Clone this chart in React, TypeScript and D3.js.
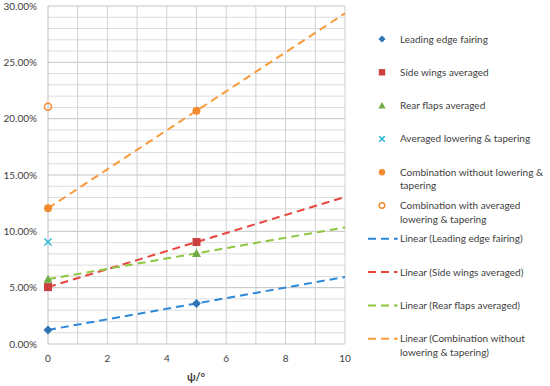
import React from 'react';
import * as d3 from 'd3';

// psi values where measurements were taken
const psiValues = [0, 5];

// drag reduction (%) per configuration
const leadingEdge = [1.25, 3.6];
const sideWings = [5.05, 9.05];
const rearFlaps = [5.75, 8.05];
const averagedLowering = [9.05]; // only at psi = 0
const combWithout = [12.05, 20.7];
const combWith = [21.05]; // only at psi = 0

const yTicks = [0, 5, 10, 15, 20, 25, 30];
const xTicks = [0, 2, 4, 6, 8, 10];

const legendLabels = [
  ['Leading edge fairing'],
  ['Side wings averaged'],
  ['Rear flaps averaged'],
  ['Averaged lowering & tapering'],
  ['Combination without lowering &', 'tapering'],
  ['Combination with averaged', 'lowering & tapering'],
  ['Linear (Leading edge fairing)'],
  ['Linear (Side wings averaged)'],
  ['Linear (Rear flaps averaged)'],
  ['Linear (Combination without', 'lowering & tapering)'],
];

const colors = {
  blue: '#2E75B6',
  blueLine: '#2E88D8',
  red: '#C9403F',
  redLine: '#E8453F',
  green: '#6FAC46',
  greenLine: '#8DC63F',
  cyan: '#2CB5D4',
  orange: '#F28A30',
  orangeLine: '#F99B3C',
};

const width = 550;
const height = 386;
const font = 'Lato, "Open Sans", sans-serif';

const x = d3.scaleLinear().domain([0, 10]).range([48, 345]);
const y = d3.scaleLinear().domain([0, 30]).range([344, 6]);

// least squares line through the measured points
function linearFit(xs: number[], ys: number[]) {
  const mx = d3.mean(xs)!;
  const my = d3.mean(ys)!;
  const num = d3.sum(xs, (v, i) => (v - mx) * (ys[i] - my));
  const den = d3.sum(xs, v => (v - mx) ** 2);
  const slope = num / den;
  return (v: number) => my + slope * (v - mx);
}

const line = d3.line<number>();

function TrendLine({ values, color }: { values: number[]; color: string }) {
  const f = linearFit(psiValues, values);
  const d = line([[x(0), y(f(0))], [x(10), y(f(10))]] as any);
  return <path d={d!} stroke={color} strokeWidth={2} strokeDasharray="8,5" fill="none" />;
}

function Marker({ kind, cx, cy, s = 1 }: { kind: string; cx: number; cy: number; s?: number }) {
  if (kind === 'diamond') {
    const r = 4.5 * s;
    return <path d={`M${cx},${cy - r}L${cx + r},${cy}L${cx},${cy + r}L${cx - r},${cy}Z`} fill={colors.blue} />;
  }
  if (kind === 'square') {
    const r = 4 * s;
    return <rect x={cx - r} y={cy - r} width={2 * r} height={2 * r} fill={colors.red} />;
  }
  if (kind === 'triangle') {
    const r = 4.5 * s;
    return <path d={`M${cx},${cy - r}L${cx + r},${cy + r * 0.8}L${cx - r},${cy + r * 0.8}Z`} fill={colors.green} />;
  }
  if (kind === 'cross') {
    const r = 3.5 * s;
    return (
      <g stroke={colors.cyan} strokeWidth={1.5}>
        <line x1={cx - r} y1={cy - r} x2={cx + r} y2={cy + r} />
        <line x1={cx - r} y1={cy + r} x2={cx + r} y2={cy - r} />
      </g>
    );
  }
  if (kind === 'circle') {
    return <circle cx={cx} cy={cy} r={4 * s} fill={colors.orange} />;
  }
  return <circle cx={cx} cy={cy} r={3.5 * s} fill="none" stroke={colors.orange} strokeWidth={1.5} />;
}

export default function App() {
  const minorY = d3.range(0, 31, 1);
  const gridX = d3.range(0, 11, 1);

  const legendMarkers = ['diamond', 'square', 'triangle', 'cross', 'circle', 'open'];
  const legendLines = [colors.blueLine, colors.redLine, colors.greenLine, colors.orangeLine];

  return (
    <svg width={width} height={height} style={{ position: 'absolute', left: 0, top: 0, background: '#fff' }}>
      {/* grid */}
      {minorY.map(v => (
        <line key={'h' + v} x1={x(0)} x2={x(10)} y1={y(v)} y2={y(v)}
          stroke={v % 5 === 0 ? '#C4C4C4' : '#DCDCDC'} strokeWidth={1} />
      ))}
      {gridX.map(v => (
        <line key={'v' + v} x1={x(v)} x2={x(v)} y1={y(0)} y2={y(30)}
          stroke={v === 0 ? '#BFBFBF' : '#D0D0D0'} strokeWidth={1} />
      ))}

      {/* y ticks */}
      {yTicks.map(v => (
        <text key={'yt' + v} x={37} y={y(v) + 3.5} textAnchor="end" fontSize={10}
          fontFamily={font} fill="#404040">{v.toFixed(2)}%</text>
      ))}
      {/* x ticks */}
      {xTicks.map(v => (
        <text key={'xt' + v} x={x(v)} y={362} textAnchor="middle" fontSize={10}
          fontFamily={font} fill="#404040">{v}</text>
      ))}
      <text x={196} y={381} textAnchor="middle" fontSize={11} fontWeight="bold"
        fontFamily={font} fill="#404040">ψ/°</text>

      {/* trend lines */}
      <TrendLine values={leadingEdge} color={colors.blueLine} />
      <TrendLine values={sideWings} color={colors.redLine} />
      <TrendLine values={rearFlaps} color={colors.greenLine} />
      <TrendLine values={combWithout} color={colors.orangeLine} />

      {/* points */}
      {leadingEdge.map((v, i) => <Marker key={'le' + i} kind="diamond" cx={x(psiValues[i])} cy={y(v)} />)}
      {sideWings.map((v, i) => <Marker key={'sw' + i} kind="square" cx={x(psiValues[i])} cy={y(v)} />)}
      {rearFlaps.map((v, i) => <Marker key={'rf' + i} kind="triangle" cx={x(psiValues[i])} cy={y(v)} />)}
      {averagedLowering.map((v, i) => <Marker key={'al' + i} kind="cross" cx={x(psiValues[i])} cy={y(v)} />)}
      {combWithout.map((v, i) => <Marker key={'cw' + i} kind="circle" cx={x(psiValues[i])} cy={y(v)} />)}
      {combWith.map((v, i) => <Marker key={'ca' + i} kind="open" cx={x(psiValues[i])} cy={y(v)} />)}

      {/* legend */}
      {legendLabels.map((lines, i) => {
        const cy = 39 + i * 33.3;
        return (
          <g key={'lg' + i}>
            {i < 6 ? (
              <Marker kind={legendMarkers[i]} cx={382} cy={cy} s={0.8} />
            ) : (
              <g>
                <line x1={368} x2={397} y1={cy} y2={cy} stroke={legendLines[i - 6]}
                  strokeWidth={2} strokeDasharray="8,5" />
                <rect x={396} y={cy - 1} width={1.5} height={2} fill={legendLines[i - 6]} />
              </g>
            )}
            <text x={400} y={cy + 3.5} fontSize={10} fontFamily={font} fill="#404040">
              {lines.map((t, j) => (
                <tspan key={j} x={400} dy={j === 0 ? 0 : 13.5}>{t}</tspan>
              ))}
            </text>
          </g>
        );
      })}
    </svg>
  );
}
